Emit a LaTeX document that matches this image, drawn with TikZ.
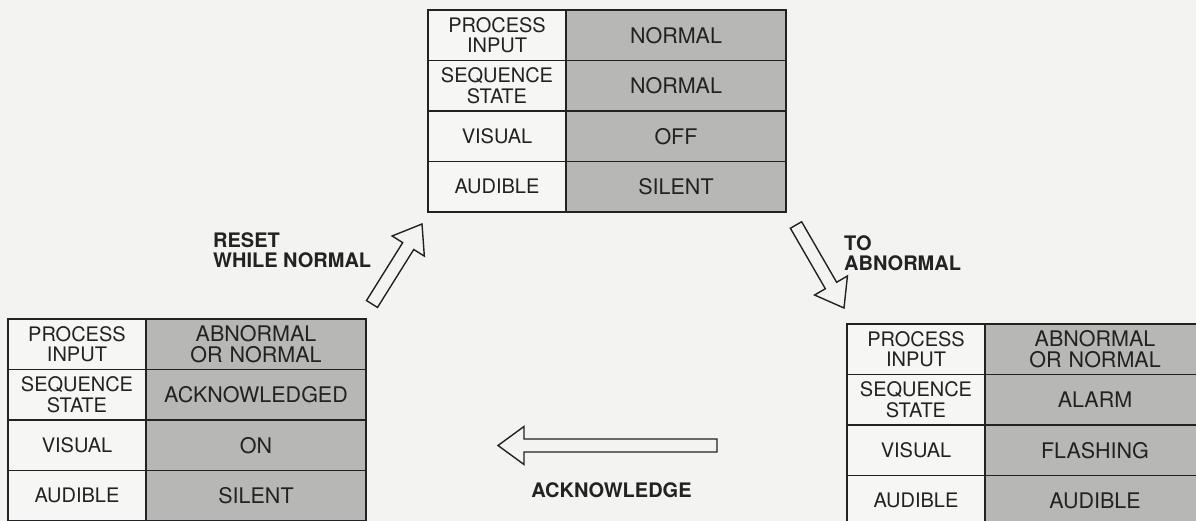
\documentclass[tikz,border=0pt]{standalone}
\usepackage{fontspec}
\setmainfont{TeX Gyre Heros}
\usetikzlibrary{calc}

\definecolor{paper}{HTML}{F3F3F1}
\definecolor{cellwhite}{HTML}{F6F6F4}
\definecolor{cellgray}{HTML}{B7B7B5}
\definecolor{ink}{HTML}{222222}

\tikzset{
  cellbase/.style={draw=ink, line width=1.6pt, inner sep=0pt, outer sep=0pt,
    minimum height=50.5pt, align=center, text=ink, anchor=north west},
  lcell/.style={cellbase, fill=cellwhite, minimum width=138pt, text width=130pt,
    font=\fontsize{20}{20.5}\selectfont},
  rcell/.style={cellbase, fill=cellgray, minimum width=220pt, text width=210pt,
    font=\fontsize{21.5}{20.5}\selectfont},
  lbl/.style={font=\fontsize{20}{20.5}\selectfont\bfseries, text=ink,
    inner sep=0pt, align=left},
  fat/.style={draw=ink, line width=1.4pt, fill=paper, line join=miter},
}

% one state table: name, top-left corner, four values
\newcommand\statetable[6]{%
  \node[lcell] (#1-l1) at (#2) {PROCESS\\INPUT};
  \node[rcell] (#1-r1) at (#1-l1.north east) {#3};
  \node[lcell] (#1-l2) at (#1-l1.south west) {SEQUENCE\\STATE};
  \node[rcell] (#1-r2) at (#1-l2.north east) {#4};
  \node[lcell] (#1-l3) at (#1-l2.south west) {VISUAL};
  \node[rcell] (#1-r3) at (#1-l3.north east) {#5};
  \node[lcell] (#1-l4) at (#1-l3.south west) {AUDIBLE};
  \node[rcell] (#1-r4) at (#1-l4.north east) {#6};
}

% hollow block arrow from tail coordinate #1 to tip coordinate #2
\newcommand\fatarrow[2]{%
  \path ($(#2)!26pt!(#1)$) coordinate (#1-h);
  \draw[fat] ($(#1)!6.5pt!90:(#2)$)
    -- ($(#1-h)!6.5pt!90:(#2)$)
    -- ($(#1-h)!19pt!90:(#2)$)
    -- (#2)
    -- ($(#1-h)!19pt!-90:(#2)$)
    -- ($(#1-h)!6.5pt!-90:(#2)$)
    -- ($(#1)!6.5pt!-90:(#2)$) -- cycle;
}

\begin{document}
\begin{tikzpicture}[x=1pt, y=-1pt]
  \useasboundingbox (0,0) rectangle (1196,521);
  \fill[paper] (0,0) rectangle (1196,521);
  \clip (0,0) rectangle (1196,521);

  \statetable{normal}{428,10}{NORMAL}{NORMAL}{OFF}{SILENT}
  \statetable{ack}{8,319}{ABNORMAL\\OR NORMAL}{ACKNOWLEDGED}{ON}{SILENT}
  \statetable{alarm}{847,324}{ABNORMAL\\OR NORMAL}{ALARM}{FLASHING}{AUDIBLE}

  % transitions
  \coordinate (resetTail) at (372,304);
  \coordinate (resetTip)  at (422,224);
  \coordinate (abnTail)   at (796,225);
  \coordinate (abnTip)    at (844,308);
  \coordinate (ackTail)   at (717,445.5);
  \coordinate (ackTip)    at (498,445.5);
  \fatarrow{resetTail}{resetTip}
  \fatarrow{abnTail}{abnTip}
  \fatarrow{ackTail}{ackTip}

  \node[lbl, anchor=north west] (lreset) at (213,232) {RESET\\WHILE NORMAL};
  \node[lbl, anchor=north west] (labn) at (844,235) {TO\\ABNORMAL};
  \node[lbl, anchor=base] (lack) at (611.5,497) {ACKNOWLEDGE};
\end{tikzpicture}
\end{document}
